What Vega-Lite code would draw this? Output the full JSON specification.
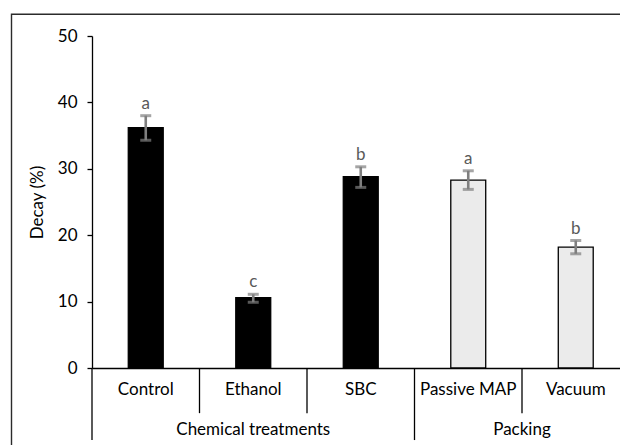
{
  "$schema": "https://vega.github.io/schema/vega-lite/v6.json",
  "autosize": {"type": "none"},
  "width": 528,
  "height": 332,
  "padding": {"left": 92, "top": 36, "right": 0, "bottom": 77},
  "background": "white",
  "config": {
    "view": {"stroke": null},
    "font": "Lato",
    "axis": {"grid": false}
  },
  "data": {
    "values": [
      {"cat": "Control", "group": "Chemical treatments", "decay": 36.2, "lo": 34.3, "hi": 38.0, "letter": "a"},
      {"cat": "Ethanol", "group": "Chemical treatments", "decay": 10.6, "lo": 9.9, "hi": 11.1, "letter": "c"},
      {"cat": "SBC", "group": "Chemical treatments", "decay": 28.8, "lo": 27.2, "hi": 30.3, "letter": "b"},
      {"cat": "Passive MAP", "group": "Packing", "decay": 28.3, "lo": 26.9, "hi": 29.7, "letter": "a"},
      {"cat": "Vacuum", "group": "Packing", "decay": 18.2, "lo": 17.2, "hi": 19.2, "letter": "b"}
    ]
  },
  "encoding": {
    "x": {
      "field": "cat",
      "type": "nominal",
      "sort": null,
      "scale": {
        "domain": ["Control", "Ethanol", "SBC", "Passive MAP", "Vacuum"],
        "range": [0, 537.5],
        "paddingInner": 0,
        "paddingOuter": 0
      },
      "axis": {
        "title": null,
        "ticks": false,
        "labelAngle": 0,
        "labelFontSize": 17,
        "labelColor": "black",
        "labelPadding": 13,
        "domainColor": "black",
        "domainWidth": 1.3
      }
    }
  },
  "layer": [
    {
      "data": {"values": [{"frame": "chart area"}]},
      "mark": {"type": "rect", "fill": null, "stroke": "#2b2b2b", "strokeWidth": 1.4, "clip": false},
      "encoding": {
        "x": {"value": -80.5},
        "x2": {"value": 800},
        "y": {"value": -21.8},
        "y2": {"value": 600}
      }
    },
    {
      "mark": {"type": "bar", "stroke": "black", "strokeWidth": 1.3, "width": {"band": 0.325}},
      "encoding": {
        "y": {
          "field": "decay",
          "type": "quantitative",
          "scale": {"domain": [0, 50], "nice": false},
          "axis": {
            "title": "Decay (%)",
            "values": [0, 10, 20, 30, 40, 50],
            "tickSize": 5,
            "tickColor": "black",
            "tickWidth": 1.3,
            "labelPadding": 10,
            "labelFontSize": 17,
            "labelColor": "black",
            "domainColor": "black",
            "domainWidth": 1.3,
            "titleFontSize": 17,
            "titleFontWeight": "normal",
            "titleColor": "black",
            "titlePadding": 11
          }
        },
        "color": {
          "field": "group",
          "type": "nominal",
          "scale": {"domain": ["Chemical treatments", "Packing"], "range": ["#000000", "#ebebeb"]},
          "legend": null
        }
      }
    },
    {
      "mark": {"type": "rule", "color": "#7f7f7f", "strokeWidth": 2.6},
      "encoding": {
        "y": {"field": "lo", "type": "quantitative"},
        "y2": {"field": "hi"}
      }
    },
    {
      "mark": {"type": "tick", "color": "#7f7f7f", "size": 11, "thickness": 3},
      "encoding": {"y": {"field": "lo", "type": "quantitative"}}
    },
    {
      "mark": {"type": "tick", "color": "#7f7f7f", "size": 11, "thickness": 3},
      "encoding": {"y": {"field": "hi", "type": "quantitative"}}
    },
    {
      "mark": {"type": "text", "fontSize": 17, "color": "#595959", "baseline": "alphabetic", "dy": -7},
      "encoding": {
        "y": {"field": "hi", "type": "quantitative"},
        "text": {"field": "letter"}
      }
    },
    {
      "data": {"values": [{"cat": "Ethanol"}, {"cat": "SBC"}, {"cat": "Vacuum"}]},
      "mark": {"type": "rule", "color": "black", "strokeWidth": 1.3, "clip": false},
      "encoding": {
        "x": {"field": "cat", "type": "nominal", "bandPosition": 0},
        "y": {"datum": 0},
        "y2": {"datum": -6.8}
      }
    },
    {
      "data": {"values": [{"cat": "Control"}, {"cat": "Passive MAP"}]},
      "mark": {"type": "rule", "color": "black", "strokeWidth": 1.3, "clip": false},
      "encoding": {
        "x": {"field": "cat", "type": "nominal", "bandPosition": 0},
        "y": {"datum": 0},
        "y2": {"datum": -10.85}
      }
    },
    {
      "data": {"values": [{"cat": "Ethanol", "label": "Chemical treatments"}]},
      "mark": {"type": "text", "fontSize": 17, "color": "black", "baseline": "middle"},
      "encoding": {
        "y": {"datum": -9.35},
        "text": {"field": "label"}
      }
    },
    {
      "data": {"values": [{"cat": "Vacuum", "label": "Packing"}]},
      "mark": {"type": "text", "fontSize": 17, "color": "black", "baseline": "middle"},
      "encoding": {
        "x": {"field": "cat", "type": "nominal", "bandPosition": 0},
        "y": {"datum": -9.35},
        "text": {"field": "label"}
      }
    }
  ]
}
